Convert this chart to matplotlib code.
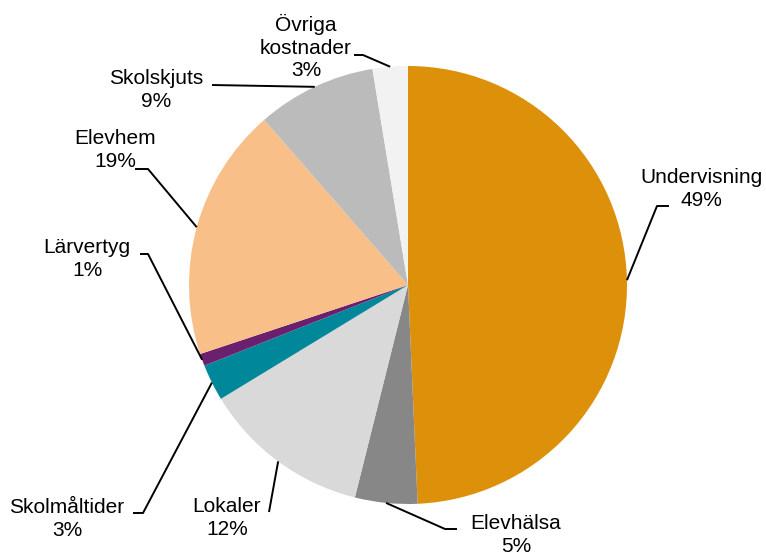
import matplotlib
matplotlib.use("Agg")
import matplotlib.pyplot as plt
import numpy as np

plt.rcParams["font.family"] = ["Liberation Sans", "DejaVu Sans"]

W, H = 766, 558

categories = [
    "Undervisning", "Elevhälsa", "Lokaler", "Skolmåltider",
    "Lärvertyg", "Elevhem", "Skolskjuts", "Övriga\nkostnader",
]
shares = [49.3, 4.6, 12.4, 2.7, 0.9, 18.7, 8.8, 2.6]
pct_labels = ["49%", "5%", "12%", "3%", "1%", "19%", "9%", "3%"]
colors = [
    "#DD910B", "#878787", "#D9D9D9", "#00889A",
    "#6B206F", "#F9BF88", "#BBBBBB", "#F2F2F2",
]

# layout in pixel coordinates (y from top): text centre, line end at text, knee
text_pos = [(701, 189), (516, 535), (227, 518), (67, 519),
            (87, 259), (115, 150), (156, 90), (306, 47)]
line_end = [(669, 206), (457, 529), (269, 512), (133, 513),
            (140, 254), (135, 169), (212, 85), (354, 55)]
knee = [(657, 206), (445, 529), (269, 512), (143, 513),
        (148, 254), (148, 169), (212, 85), (363, 55)]

CENTER = (408, H - 285)
RADIUS = 219


def px(p):
    return p[0], H - p[1]


fig = plt.figure(figsize=(W / 100, H / 100), dpi=100)
ax = fig.add_axes([0, 0, 1, 1])

wedges, _ = ax.pie(
    shares,
    colors=colors,
    startangle=90,
    counterclock=False,
    center=CENTER,
    radius=RADIUS,
    wedgeprops=dict(linewidth=0),
)

for i, w in enumerate(wedges):
    mid = np.deg2rad((w.theta1 + w.theta2) / 2)
    anchor = (CENTER[0] + RADIUS * np.cos(mid), CENTER[1] + RADIUS * np.sin(mid))
    ex, ey = px(line_end[i])
    kx, ky = px(knee[i])
    ax.plot([ex, kx, anchor[0]], [ey, ky, anchor[1]], color="black",
            linewidth=1.4, solid_capstyle="butt", zorder=3)
    tx, ty = px(text_pos[i])
    ax.text(tx, ty, categories[i] + "\n" + pct_labels[i], ha="center",
            va="center", fontsize=15, linespacing=1.25, color="black")

ax.set_xlim(0, W)
ax.set_ylim(0, H)
ax.set_aspect("equal")
ax.axis("off")

fig.savefig("out.png", dpi=100)
